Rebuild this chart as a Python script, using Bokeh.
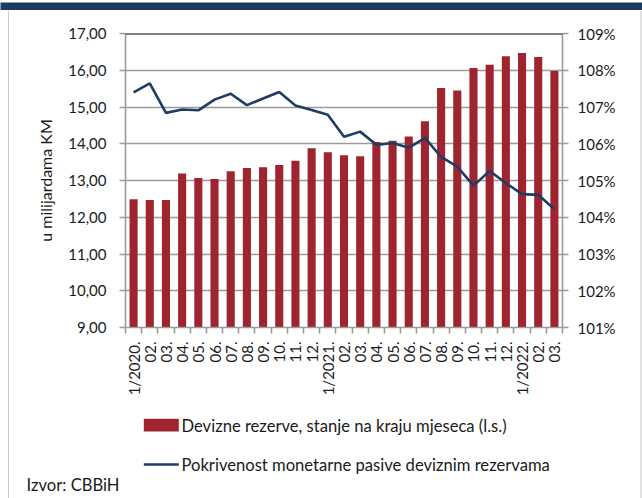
import math
from bokeh.plotting import figure
from bokeh.layouts import column, row
from bokeh.models import Range1d, LinearAxis, FixedTicker, Span, ColumnDataSource
from bokeh.core.properties import value
from bokeh.embed import file_html
from bokeh.resources import INLINE

# ---- data ----
months = ["1/2020.", "02.", "03.", "04.", "05.", "06.", "07.", "08.", "09.", "10.", "11.", "12.",
          "1/2021.", "02.", "03.", "04.", "05.", "06.", "07.", "08.", "09.", "10.", "11.", "12.",
          "1/2022.", "02.", "03."]
reserves = [12.49, 12.47, 12.47, 13.19, 13.07, 13.04, 13.25, 13.34, 13.36, 13.42, 13.54, 13.88,
            13.77, 13.69, 13.66, 14.05, 14.08, 14.20, 14.61, 15.52, 15.45, 16.06, 16.15, 16.38,
            16.47, 16.36, 15.98]
coverage = [107.40, 107.64, 106.84, 106.93, 106.91, 107.20, 107.36, 107.05, 107.23, 107.41, 107.04,
            106.92, 106.79, 106.19, 106.33, 105.97, 106.02, 105.89, 106.16, 105.64, 105.38, 104.86,
            105.26, 104.93, 104.63, 104.61, 104.22]
left_ticks = [9, 10, 11, 12, 13, 14, 15, 16, 17]
left_tick_labels = ["9,00", "10,00", "11,00", "12,00", "13,00", "14,00", "15,00", "16,00", "17,00"]
right_ticks = [101, 102, 103, 104, 105, 106, 107, 108, 109]
right_tick_labels = ["101%", "102%", "103%", "104%", "105%", "106%", "107%", "108%", "109%"]
bar_name = "Devizne rezerve, stanje na kraju mjeseca (l.s.)"
line_name = "Pokrivenost monetarne pasive deviznim rezervama"
y_title = "u milijardama KM"
source_text = "Izvor: CBBiH"

FONT = "Lato"
RED = "#9E2430"
NAVY = "#1E3C64"
GRID = "#9a9a9a"
TXT = "#1a1a1a"
BAND = "#1F3A5F"
FS = "15px"
FS_LEG = "16.6px"


def no_align(f):
    try:
        f.frame_align = False
    except Exception:
        pass


def bare(w, h, xr, yr, bg="white"):
    f = figure(width=w, height=h, output_backend="svg", toolbar_location=None,
               x_range=xr, y_range=yr, min_border=0,
               x_axis_location=None, y_axis_location=None)
    f.grid.visible = False
    f.outline_line_color = None
    f.background_fill_color = bg
    f.border_fill_color = bg
    no_align(f)
    return f


# ---- header band ----
band = bare(642, 10, Range1d(0, 1), Range1d(0, 1), bg=BAND)

# ---- left / right frame strips ----
strip = bare(9, 488, Range1d(0, 9), Range1d(0, 1))
strip.quad(left=[7.9], right=[9.0], bottom=[0], top=[1], fill_color="#a8a8a8", line_color=None)
rstrip = bare(3, 488, Range1d(639, 642), Range1d(0, 1))
rstrip.quad(left=[640.0], right=[641.0], bottom=[0], top=[1], fill_color="#c4c4c4", line_color=None)

# ---- main chart ----
n = len(months)
xs = list(range(n))
src = ColumnDataSource(dict(x=xs, res=reserves, cov=coverage))

p = figure(width=630, height=390, output_backend="svg", toolbar_location=None,
           x_range=Range1d(-0.5, n - 0.5), y_range=Range1d(9, 17),
           min_border_left=116, min_border_right=77, min_border_top=23, min_border_bottom=73)
p.frame_width = 437
p.frame_height = 294
p.outline_line_color = None
p.extra_y_ranges = {"pct": Range1d(101, 109)}
no_align(p)

p.xgrid.grid_line_color = None
p.ygrid.ticker = FixedTicker(ticks=left_ticks)
p.ygrid.grid_line_color = GRID
p.ygrid.grid_line_width = 1.6

ya = p.yaxis[0]
ya.ticker = FixedTicker(ticks=left_ticks)
ya.major_label_overrides = {t: s for t, s in zip(left_ticks, left_tick_labels)}
ya.axis_label = y_title
ya.axis_label_text_font = FONT
ya.axis_label_text_font_size = "16px"
ya.axis_label_text_font_style = "normal"
ya.axis_label_text_color = TXT
ya.axis_label_standoff = 10
ya.major_label_text_font = FONT
ya.major_label_text_font_size = FS
ya.major_label_text_color = TXT
ya.major_label_standoff = 13
ya.axis_line_color = GRID
ya.axis_line_width = 1.6
ya.major_tick_line_color = GRID
ya.major_tick_line_width = 1.6
ya.major_tick_out = 6
ya.major_tick_in = 0
ya.minor_tick_line_color = None

ra = LinearAxis(y_range_name="pct", ticker=FixedTicker(ticks=right_ticks))
ra.major_label_overrides = {t: s for t, s in zip(right_ticks, right_tick_labels)}
ra.major_label_text_font = FONT
ra.major_label_text_font_size = FS
ra.major_label_text_color = TXT
ra.major_label_standoff = 9
ra.axis_line_color = GRID
ra.axis_line_width = 1.6
ra.major_tick_line_color = GRID
ra.major_tick_line_width = 1.6
ra.major_tick_out = 6
ra.major_tick_in = 0
ra.minor_tick_line_color = None
p.add_layout(ra, "right")

xa = p.xaxis[0]
xa.ticker = FixedTicker(ticks=xs, minor_ticks=[i - 0.5 for i in range(n + 1)])
xa.major_label_overrides = {i: m for i, m in enumerate(months)}
xa.major_label_orientation = math.pi / 2
xa.major_label_text_font = FONT
xa.major_label_text_font_size = FS
xa.major_label_text_color = TXT
xa.major_label_standoff = 8
xa.major_tick_line_color = None
xa.major_tick_out = 0
xa.major_tick_in = 0
xa.minor_tick_line_color = GRID
xa.minor_tick_line_width = 1.6
xa.minor_tick_out = 6
xa.minor_tick_in = 0
xa.axis_line_color = GRID
xa.axis_line_width = 1.6

p.add_layout(Span(location=17, dimension="width", line_color="black", line_width=2.2))

p.vbar(x="x", top="res", bottom=9, width=0.5, source=src, fill_color=RED, line_color=None)
p.line(x="x", y="cov", y_range_name="pct", source=src, line_color=NAVY, line_width=2.6)

# ---- legend + source note (page-pixel coordinates) ----
lg = bare(630, 98, Range1d(9, 639), Range1d(498, 400))
lg.quad(left=[143.3], right=[178.3], top=[418.3], bottom=[431.0], fill_color=RED, line_color=None)
lg.segment(x0=[143.3], x1=[178.3], y0=[464.0], y1=[464.0], line_color=NAVY, line_width=2.4)
lg.text(x=[181, 181], y=[425, 464], text=[bar_name, line_name], text_font=value(FONT),
        text_font_size=FS_LEG, text_color=TXT, text_baseline="middle", text_align="left")
lg.text(x=[26], y=[484], text=[source_text], text_font=value(FONT),
        text_font_size=FS_LEG, text_color=TXT, text_baseline="middle", text_align="left")

layout = column(band, row(strip, column(p, lg, spacing=0), rstrip, spacing=0), spacing=0)

open("out.html", "w").write(file_html(layout, INLINE))
